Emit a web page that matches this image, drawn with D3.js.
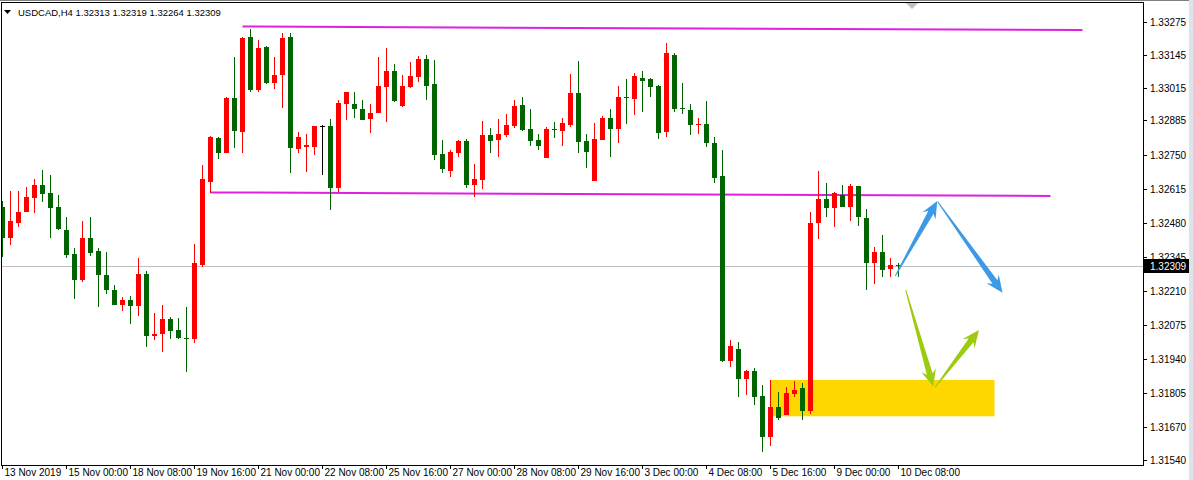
<!DOCTYPE html>
<html><head><meta charset="utf-8">
<script src="https://cdn.jsdelivr.net/npm/d3@7"></script>
<style>
body{margin:0;background:#fff;overflow:hidden;}
svg{display:block;}
text{font-family:"Liberation Sans",Arial,sans-serif;}
</style>
</head><body>
<svg id="chart" width="1193" height="480"></svg>
<script>
// ---------------- data ----------------
const symbol = "USDCAD,H4";
const opens = [1.32542,1.32420,1.32479,1.32522,1.32578,1.32629,1.32598,1.32542,1.32451,1.32356,
1.32253,1.32420,1.32368,1.32273,1.32214,1.32154,1.32174,1.32150,1.32277,1.32031,
1.32039,1.32099,1.32055,1.32024,1.32020,1.32313,1.32641,1.32816,1.32756,1.32974,
1.32839,1.33215,1.33006,1.33176,1.33033,1.33065,1.33215,1.32772,1.32780,1.32780,
1.32863,1.32863,1.32617,1.32950,1.32950,1.32930,1.32891,1.32915,1.33017,1.33081,
1.32942,1.33017,1.33057,1.33128,1.33029,1.32752,1.32685,1.32756,1.32804,1.32629,
1.32649,1.32827,1.32808,1.32827,1.32863,1.32946,1.32851,1.32808,1.32736,1.32851,
1.32843,1.32867,1.32994,1.32804,1.32645,1.32808,1.32895,1.32851,1.32978,1.32970,
1.33053,1.33049,1.33021,1.32839,1.33144,1.32934,1.32926,1.32871,1.32871,1.32796,
1.32665,1.31933,1.31980,1.31861,1.31893,1.31794,1.31632,1.31750,1.31719,1.31802,
1.31825,1.31734,1.32479,1.32574,1.32538,1.32590,1.32542,1.32625,1.32499,1.32321,
1.32364,1.32297,1.32313];
const highs = [1.32566,1.32606,1.32606,1.32621,1.32653,1.32689,1.32669,1.32590,1.32503,1.32380,
1.32487,1.32503,1.32380,1.32364,1.32233,1.32186,1.32190,1.32340,1.32289,1.32123,
1.32154,1.32107,1.32103,1.32146,1.32396,1.32709,1.32823,1.32820,1.32978,1.33136,
1.33215,1.33247,1.33204,1.33180,1.33136,1.33231,1.33231,1.32839,1.32831,1.32863,
1.32867,1.32891,1.32966,1.32998,1.32998,1.32966,1.32950,1.33136,1.33172,1.33109,
1.33065,1.33116,1.33140,1.33144,1.33124,1.32808,1.32768,1.32808,1.32812,1.32713,
1.32883,1.32855,1.32891,1.32911,1.32966,1.32978,1.32930,1.32831,1.32859,1.32879,
1.32895,1.33069,1.33120,1.32831,1.32875,1.32903,1.32930,1.33021,1.33049,1.33073,
1.33081,1.33053,1.33025,1.33192,1.33152,1.33033,1.32950,1.32895,1.32962,1.32820,
1.32768,1.32016,1.32008,1.31897,1.31905,1.31837,1.31857,1.31810,1.31829,1.31853,
1.31845,1.32522,1.32685,1.32637,1.32602,1.32629,1.32633,1.32625,1.32534,1.32384,
1.32432,1.32340,1.32319];
const lows = [1.32344,1.32392,1.32463,1.32522,1.32518,1.32562,1.32420,1.32451,1.32340,1.32178,
1.32245,1.32348,1.32146,1.32198,1.32154,1.32131,1.32079,1.32111,1.31988,1.32016,
1.31969,1.32020,1.32020,1.31889,1.32004,1.32305,1.32598,1.32732,1.32756,1.32776,
1.32756,1.32998,1.32998,1.33029,1.33010,1.32934,1.32677,1.32756,1.32681,1.32748,
1.32669,1.32530,1.32602,1.32887,1.32895,1.32887,1.32835,1.32915,1.32879,1.32958,
1.32938,1.33014,1.33037,1.32966,1.32728,1.32677,1.32661,1.32740,1.32617,1.32582,
1.32614,1.32756,1.32740,1.32820,1.32855,1.32843,1.32784,1.32768,1.32736,1.32816,
1.32784,1.32859,1.32756,1.32697,1.32645,1.32808,1.32740,1.32796,1.32871,1.32907,
1.32918,1.32978,1.32812,1.32820,1.32918,1.32911,1.32827,1.32831,1.32780,1.32637,
1.31929,1.31909,1.31790,1.31798,1.31758,1.31572,1.31596,1.31699,1.31719,1.31790,
1.31699,1.31723,1.32416,1.32503,1.32463,1.32542,1.32487,1.32467,1.32214,1.32237,
1.32265,1.32265,1.32264];
const closes = [1.32420,1.32487,1.32522,1.32582,1.32629,1.32594,1.32538,1.32455,1.32352,1.32253,
1.32420,1.32360,1.32273,1.32214,1.32154,1.32174,1.32150,1.32277,1.32031,1.32039,
1.32099,1.32051,1.32024,1.32022,1.32321,1.32653,1.32820,1.32756,1.32974,1.32843,
1.33213,1.33006,1.33172,1.33033,1.33065,1.33212,1.32776,1.32820,1.32788,1.32863,
1.32863,1.32617,1.32954,1.32998,1.32930,1.32887,1.32915,1.33021,1.33081,1.32962,
1.33021,1.33061,1.33128,1.33021,1.32748,1.32693,1.32760,1.32804,1.32629,1.32653,
1.32827,1.32804,1.32831,1.32867,1.32942,1.32847,1.32804,1.32784,1.32851,1.32849,
1.32875,1.32994,1.32800,1.32760,1.32812,1.32895,1.32851,1.32978,1.32976,1.33061,
1.33041,1.33017,1.32835,1.33152,1.32930,1.32932,1.32867,1.32872,1.32796,1.32657,
1.31933,1.31992,1.31861,1.31893,1.31790,1.31632,1.31750,1.31707,1.31806,1.31818,
1.31734,1.32479,1.32574,1.32538,1.32598,1.32542,1.32625,1.32503,1.32321,1.32364,
1.32293,1.32313,1.32309];
const timeLabels = ["13 Nov 2019","15 Nov 00:00","18 Nov 08:00","19 Nov 16:00","21 Nov 00:00",
"22 Nov 08:00","25 Nov 16:00","27 Nov 00:00","28 Nov 08:00","29 Nov 16:00","3 Dec 00:00",
"4 Dec 08:00","5 Dec 16:00","9 Dec 00:00","10 Dec 08:00"];
const barsPerLabel = 8;
const priceTicks = [1.33275,1.33145,1.33015,1.32885,1.32750,1.32615,1.32480,1.32345,1.32210,1.32075,1.31940,1.31805,1.31670,1.31540];
const lastPrice = 1.32309;
// objects (bar index, price)
const trendLines = [
  {t1:30, p1:1.33257, t2:135, p2:1.33243},
  {t1:26, p1:1.32600, t2:131, p2:1.32586}
];
const zone = {t1:96, t2:124, p1:1.31857, p2:1.31713};
const arrows = [
  {t1:111.6, p1:1.32269, t2:116.85, p2:1.32566, color:"#3d9ae6"},
  {t1:116.9, p1:1.32563, t2:125.0, p2:1.32203, color:"#3d9ae6"},
  {t1:112.9, p1:1.32214, t2:116.35, p2:1.31831, color:"#9ccc10"},
  {t1:116.6, p1:1.31829, t2:122.06, p2:1.32055, color:"#9ccc10"}
];

// ---------------- drawing ----------------
const W = 1193, H = 480;
const plotL = 1, plotR = 1143, plotT = 3, plotB = 465;
const svg = d3.select("#chart");
const x = d3.scaleLinear().domain([0, 112]).range([2.5, 898.5]);
const y = d3.scaleLinear().domain([1.33275, 1.31540]).range([22, 460]);

svg.append("rect").attr("width",W).attr("height",H).attr("fill","#fff");

svg.append("defs").append("clipPath").attr("id","plot")
  .append("rect").attr("x",plotL).attr("y",plotT).attr("width",plotR-plotL).attr("height",plotB-plotT);
const g = svg.append("g").attr("clip-path","url(#plot)");

// zone
g.append("rect")
  .attr("x", x(zone.t1)).attr("y", y(zone.p1))
  .attr("width", x(zone.t2)-x(zone.t1)).attr("height", y(zone.p2)-y(zone.p1))
  .attr("fill","#ffd700");

// bid line
g.append("line").attr("x1",plotL).attr("x2",plotR)
  .attr("y1",Math.round(y(lastPrice))+0.5).attr("y2",Math.round(y(lastPrice))+0.5)
  .attr("stroke","#c0c0c0").attr("stroke-width",1);

// trend lines
g.selectAll("line.tl").data(trendLines).join("line").attr("class","tl")
  .attr("x1",d=>x(d.t1)).attr("x2",d=>x(d.t2))
  .attr("y1",d=>y(d.p1)).attr("y2",d=>y(d.p2))
  .attr("stroke","#e020e0").attr("stroke-width",2);

// candles
const bars = opens.map((o,i)=>({i, o, h:highs[i], l:lows[i], c:closes[i]}));
const col = d => d.c > d.o ? "#ff0000" : (d.c < d.o ? "#006400" : "#000000");
const cg = g.append("g").attr("shape-rendering","crispEdges");
cg.selectAll("rect.wick").data(bars).join("rect").attr("class","wick")
  .attr("x", d=>x(d.i)-0.5).attr("width",1)
  .attr("y", d=>Math.round(y(d.h)))
  .attr("height", d=>Math.max(1, Math.round(y(d.l))-Math.round(y(d.h))))
  .attr("fill", col);
cg.selectAll("rect.body").data(bars).join("rect").attr("class","body")
  .attr("x", d=>x(d.i)-2.5).attr("width",5)
  .attr("y", d=>Math.round(y(Math.max(d.o,d.c))))
  .attr("height", d=>Math.max(1, Math.round(y(Math.min(d.o,d.c)))-Math.round(y(Math.max(d.o,d.c)))))
  .attr("fill", col);

// arrows
function arrowPts(a){
  const x0=x(a.t1), y0=y(a.p1), x1=x(a.t2), y1=y(a.p2);
  const dx=x1-x0, dy=y1-y0, L=Math.hypot(dx,dy);
  const ux=dx/L, uy=dy/L, nx=-uy, ny=ux;
  const hl=17, hw=15, nw=6, tw=1;
  const bx=x1-ux*hl, by=y1-uy*hl;
  const P=(px,py)=>[px,py];
  return [
    P(x0+nx*tw/2, y0+ny*tw/2),
    P(bx+ux*4+nx*nw/2, by+uy*4+ny*nw/2),
    P(bx+nx*hw/2, by+ny*hw/2),
    P(x1,y1),
    P(bx-nx*hw/2, by-ny*hw/2),
    P(bx+ux*4-nx*nw/2, by+uy*4-ny*nw/2),
    P(x0-nx*tw/2, y0-ny*tw/2)
  ];
}
g.selectAll("polygon.arr").data(arrows).join("polygon").attr("class","arr")
  .attr("points", d=>arrowPts(d).map(p=>p.join(",")).join(" "))
  .attr("fill", d=>d.color);

// chart shift marker
svg.append("polygon").attr("points","906,3 918,3 912,9").attr("fill","#c0c0c0");

// frame
svg.append("rect").attr("x",plotL+0.5).attr("y",plotT-0.5).attr("width",plotR-plotL).attr("height",plotB-plotT+0.5)
  .attr("fill","none").attr("stroke","#000").attr("stroke-width",1).attr("shape-rendering","crispEdges");
svg.append("line").attr("x1",0).attr("x2",W).attr("y1",0.5).attr("y2",0.5).attr("stroke","#808080");

// right price axis
const ra = svg.append("g").attr("shape-rendering","crispEdges");
priceTicks.forEach(p=>{
  const yy = Math.round(y(p))+0.5;
  ra.append("line").attr("x1",plotR).attr("x2",plotR+4).attr("y1",yy).attr("y2",yy).attr("stroke","#000");
  ra.append("text").attr("x",plotR+7).attr("y",yy+3.5).attr("font-size",10).attr("fill","#000")
    .text(d3.format(".5f")(p));
});
const ly = Math.round(y(lastPrice));
svg.append("rect").attr("x",plotR).attr("y",ly-7).attr("width",46).attr("height",14).attr("fill","#000");
svg.append("text").attr("x",plotR+7).attr("y",ly+4).attr("font-size",10).attr("fill","#fff")
  .text(d3.format(".5f")(lastPrice));

// bottom time axis
timeLabels.forEach((t,k)=>{
  const xi = Math.round(x(k*barsPerLabel))-0.5;
  ra.append("line").attr("x1",xi).attr("x2",xi).attr("y1",plotB).attr("y2",plotB+4).attr("stroke","#000");
  svg.append("text").attr("x",xi+2).attr("y",plotB+11).attr("font-size",10).attr("fill","#000").text(t);
});

// header
svg.append("polygon").attr("points","4,10 11,10 7.5,14").attr("fill","#000");
svg.append("text").attr("x",18).attr("y",16).attr("font-size",9.5).attr("fill","#000")
  .text(symbol + "  " + [opens[112],highs[112],lows[112],closes[112]].map(d3.format(".5f")).join(" "));

// window edge
svg.append("rect").attr("x",1189).attr("y",0).attr("width",4).attr("height",H).attr("fill","#dde3ec");
</script>
</body></html>
